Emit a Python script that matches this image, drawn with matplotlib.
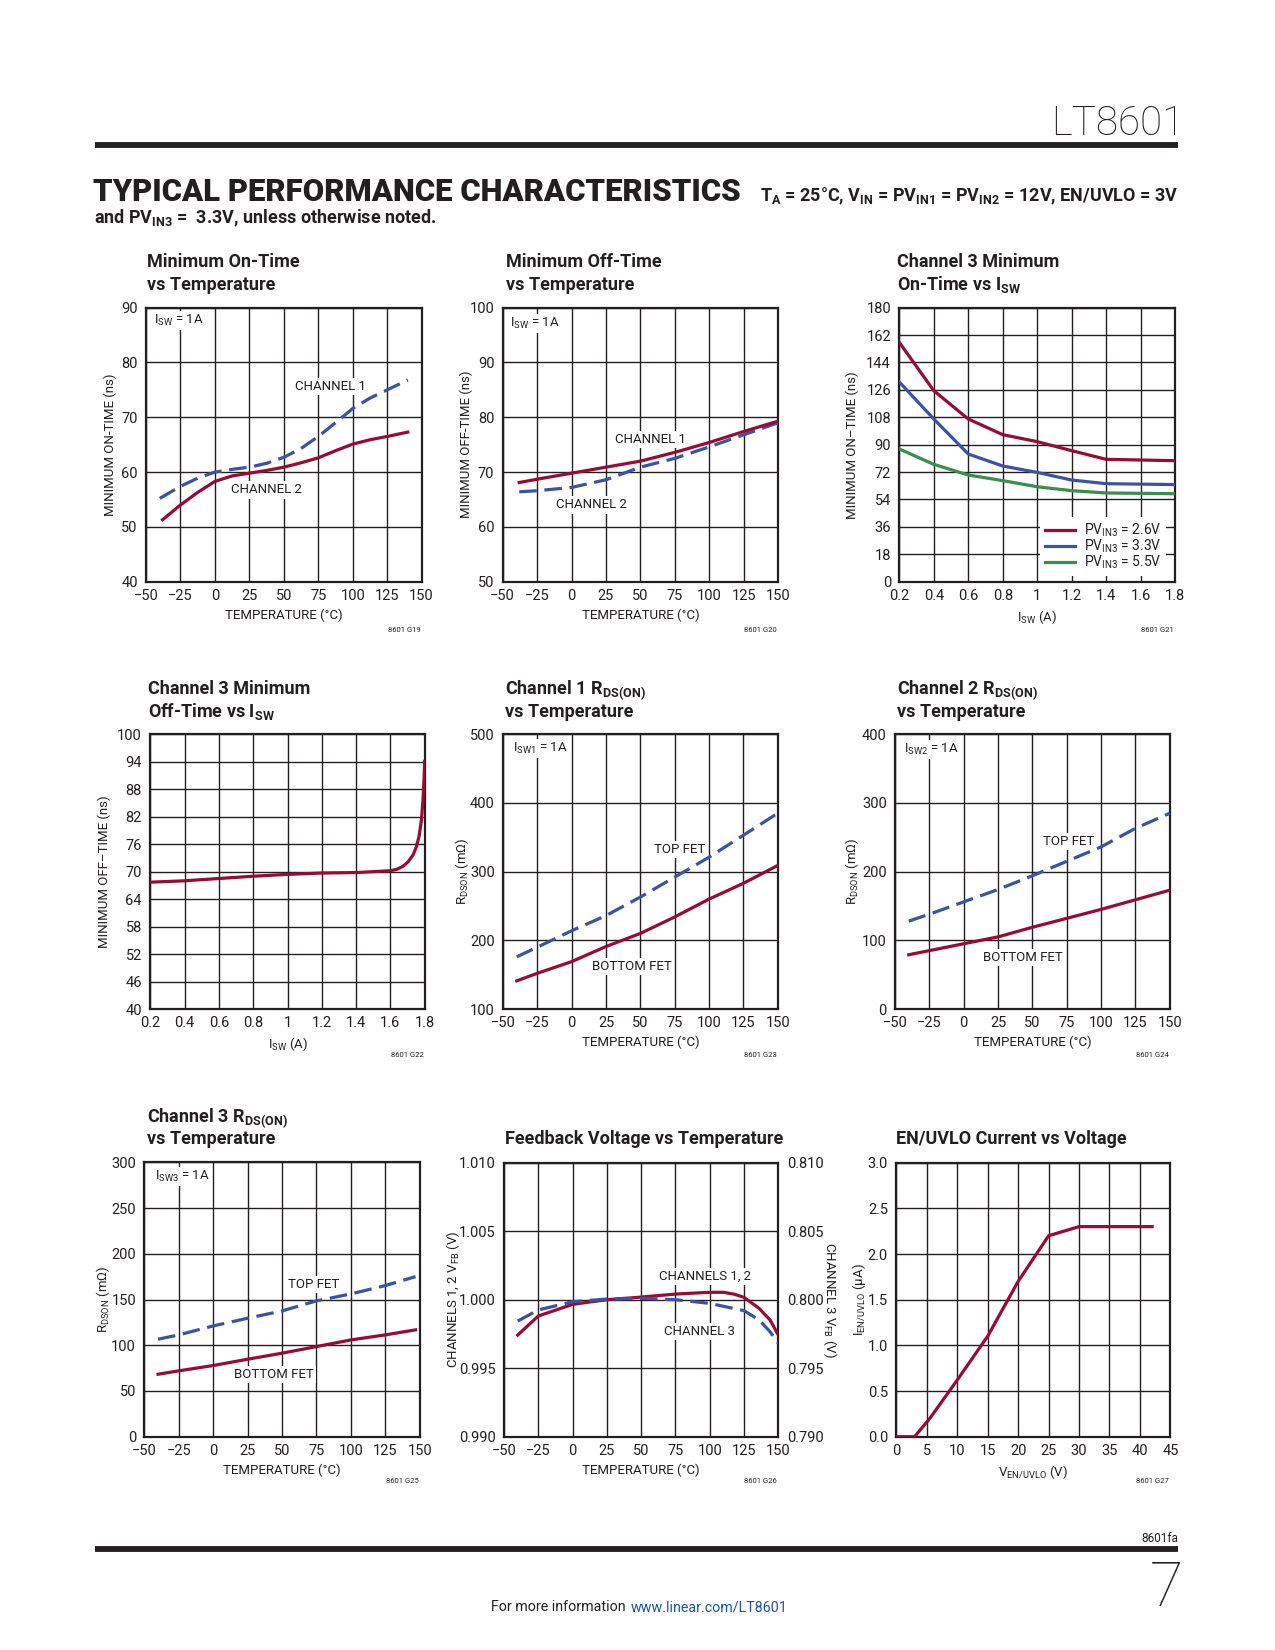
import matplotlib
matplotlib.use('Agg')
import matplotlib.pyplot as plt
from matplotlib import font_manager as fm

W, H = 1275, 1650
names = {f.name for f in fm.fontManager.ttflist}
COND = 'Liberation Sans Narrow' if 'Liberation Sans Narrow' in names else 'Roboto'
plt.rcParams['font.family'] = [COND, 'DejaVu Sans']
plt.rcParams['mathtext.fontset'] = 'custom'
plt.rcParams['mathtext.rm'] = COND
plt.rcParams['mathtext.default'] = 'regular'

TXT = '#231F20'
RED = '#970B35'
BLUE = '#3C52A3'
GREEN = '#3A8D4E'
DASH = (0, (5.5, 2.4))

# ---------------- data ----------------
# 1 Minimum On-Time vs Temperature
t1 = [-40, -25, -12.5, 0, 12.5, 25, 37.5, 50, 62.5, 75, 87.5, 100, 112.5, 125, 140]
on_ch1 = [55.2, 57.4, 58.9, 60.0, 60.5, 60.9, 61.6, 62.7, 64.3, 66.5, 69.0, 71.6, 73.5, 75.0, 76.8]
t1b = [-38, -25, -12.5, 0, 12.5, 25, 37.5, 50, 62.5, 75, 87.5, 100, 112.5, 125, 140]
on_ch2 = [51.3, 54.0, 56.3, 58.3, 59.3, 59.8, 60.3, 60.9, 61.7, 62.6, 63.9, 65.1, 65.9, 66.5, 67.3]

# 2 Minimum Off-Time vs Temperature
t2 = [-38, -25, 0, 25, 50, 75, 100, 125, 150]
off_ch1 = [68.1, 68.7, 69.8, 70.9, 72.0, 73.6, 75.4, 77.4, 79.3]
off_ch2 = [66.4, 66.6, 67.2, 68.6, 70.9, 72.5, 74.6, 76.8, 79.0]

# 3 Channel 3 Minimum On-Time vs ISW
isw3 = [0.2, 0.4, 0.6, 0.8, 1.0, 1.2, 1.4, 1.8]
on3_26 = [157.2, 125.5, 106.9, 96.6, 92.0, 86.1, 80.4, 79.5]
on3_33 = [131.2, 106.9, 83.9, 76.0, 71.8, 66.8, 64.4, 63.8]
on3_55 = [87.2, 77.1, 70.1, 66.4, 62.4, 59.8, 58.3, 57.8]

# 4 Channel 3 Minimum Off-Time vs ISW
isw4 = [0.2, 0.4, 0.6, 0.8, 1.0, 1.2, 1.4, 1.6, 1.637, 1.675, 1.704, 1.733, 1.752,
        1.767, 1.781, 1.79, 1.796, 1.8]
off3 = [67.7, 68.0, 68.5, 69.0, 69.4, 69.7, 69.8, 70.2, 70.5, 71.2, 72.2, 73.7, 75.5,
        77.7, 81.3, 85.7, 90.1, 94.1]

# 5 Channel 1 RDS(ON)
t5 = [-40, -25, 0, 25, 50, 75, 100, 125, 150]
r1_top = [176, 190, 214, 236, 263, 292, 321, 353, 385]
r1_bot = [141, 152, 169, 191, 210, 234, 260, 283, 309]

# 6 Channel 2 RDS(ON)
t6 = [-40, -25, 0, 25, 50, 75, 100, 125, 150]
r2_top = [128, 138, 156, 174, 194, 215, 236, 263, 285]
r2_bot = [79, 85, 95, 105, 119, 132, 145, 159, 173]

# 7 Channel 3 RDS(ON)
t7 = [-40, -25, 0, 25, 50, 75, 100, 125, 147]
r3_top = [106.6, 111.3, 121.1, 129.5, 137.5, 148.5, 156.1, 165.2, 175.0]
r3_bot = [68.3, 72.0, 77.8, 84.7, 91.3, 98.5, 105.8, 111.3, 116.8]

# 8 Feedback voltage vs temperature
t8 = [-40, -25, 0, 25, 50, 75, 100, 110, 118, 125, 136, 144, 150]
vfb12 = [0.99742, 0.99881, 0.99966, 1.00000, 1.00019, 1.00041, 1.00054, 1.00054,
         1.00040, 1.00017, 0.99937, 0.99852, 0.99742]
t8c = [-40, -25, 0, 25, 50, 75, 100, 125, 136, 144, 150]
vfb3 = [0.79844, 0.79925, 0.79985, 0.80005, 0.80010, 0.80000, 0.79973, 0.79920,
        0.79852, 0.79766, 0.79681]

# 9 EN/UVLO current vs voltage
ven = [0, 3, 5.5, 10, 15, 20, 25, 30, 42]
ien = [0, 0, 0.2, 0.62, 1.1, 1.7, 2.2, 2.3, 2.3]

temp_ticks = [-50, -25, 0, 25, 50, 75, 100, 125, 150]
temp_labels = ['\u221250', '\u221225', '0', '25', '50', '75', '100', '125', '150']
isw_ticks = [0.2, 0.4, 0.6, 0.8, 1.0, 1.2, 1.4, 1.6, 1.8]
isw_labels = ['0.2', '0.4', '0.6', '0.8', '1', '1.2', '1.4', '1.6', '1.8']

fig = plt.figure(figsize=(W / 100, H / 100), dpi=100)


def px(x, y):
    return x / W, 1 - y / H


def make_ax(l, t, r, b):
    ax = fig.add_axes([l / W, 1 - b / H, (r - l) / W, (b - t) / H])
    ax._wpx = r - l
    return ax


def style(ax, xticks, xlabels, yticks, ylabels, xlabel, ylabel, yoff):
    ax.set_xlim(xticks[0], xticks[-1])
    ax.set_ylim(yticks[0], yticks[-1])
    ax.set_xticks(xticks)
    ax.set_xticklabels(xlabels)
    ax.set_yticks(yticks)
    ax.set_yticklabels(ylabels)
    ax.grid(True, color=TXT, lw=1.0)
    ax.set_axisbelow(True)
    ax.tick_params(axis='both', length=0, labelsize=10.5, colors=TXT)
    ax.tick_params(axis='x', pad=5)
    ax.tick_params(axis='y', pad=6)
    for s in ax.spines.values():
        s.set_linewidth(1.6)
        s.set_color(TXT)
    ax.set_xlabel(xlabel, fontsize=9.5, color=TXT, labelpad=4)
    ax.set_ylabel(ylabel, fontsize=9.5, color=TXT, va='center')
    ax.yaxis.set_label_coords(-yoff / ax._wpx, 0.5)


def note(ax, x, y, s, ha='center'):
    ax.text(x, y, s, fontsize=9.5, color=TXT, ha=ha, va='center', zorder=3,
            bbox=dict(facecolor='white', edgecolor='none', pad=1.5))


def title(x, ys, lines):
    for y, s in zip(ys, lines):
        fig.text(*px(x, y), s, fontsize=13, fontweight='bold', color=TXT,
                 va='baseline', ha='left')


def code(x, y, s):
    fig.text(*px(x, y), s, fontsize=5.5, color=TXT, ha='right', va='center')


LW = 2.3

# ---- chart 1
ax = make_ax(146, 307.7, 421.6, 581.7)
style(ax, temp_ticks, temp_labels, [40, 50, 60, 70, 80, 90],
      ['40', '50', '60', '70', '80', '90'], 'TEMPERATURE (\u00b0C)',
      'MINIMUM ON-TIME (ns)', 35.3)
ax.plot(t1, on_ch1, color=BLUE, lw=LW, ls=DASH, zorder=4)
ax.plot(t1b, on_ch2, color=RED, lw=LW, zorder=4)
note(ax, 83.6, 75.6, 'CHANNEL 1')
note(ax, 37.6, 56.75, 'CHANNEL 2')
note(ax, -44, 87.7, 'I$_{SW}$ = 1A', ha='left')
title(147, [266.7, 290], ['Minimum On-Time', 'vs Temperature'])
code(421, 630, '8601 G19')

# ---- chart 2
ax = make_ax(502.7, 307.7, 778, 581.7)
style(ax, temp_ticks, temp_labels, [50, 60, 70, 80, 90, 100],
      ['50', '60', '70', '80', '90', '100'], 'TEMPERATURE (\u00b0C)',
      'MINIMUM OFF-TIME (ns)', 36)
ax.plot(t2, off_ch2, color=BLUE, lw=LW, ls=DASH, zorder=4)
ax.plot(t2, off_ch1, color=RED, lw=LW, zorder=4)
note(ax, 57, 76, 'CHANNEL 1')
note(ax, 14.6, 64.0, 'CHANNEL 2')
note(ax, -45, 97.1, 'I$_{SW}$ = 1A', ha='left')
title(506, [266.7, 290], ['Minimum Off-Time', 'vs Temperature'])
code(777, 630, '8601 G20')

# ---- chart 3
ax = make_ax(899.3, 307.7, 1175, 581.7)
yt3 = [0, 18, 36, 54, 72, 90, 108, 126, 144, 162, 180]
style(ax, isw_ticks, isw_labels, yt3, [str(v) for v in yt3],
      'I$_{SW}$ (A)', 'MINIMUM ON\u2013TIME (ns)', 47)
l1, = ax.plot(isw3, on3_26, color=RED, lw=LW, zorder=4, label='PV$_{IN3}$ = 2.6V')
l2, = ax.plot(isw3, on3_33, color=BLUE, lw=LW, zorder=4, label='PV$_{IN3}$ = 3.3V')
l3, = ax.plot(isw3, on3_55, color=GREEN, lw=LW, zorder=4, label='PV$_{IN3}$ = 5.5V')
leg = ax.legend(handles=[l1, l2, l3], loc='lower left', bbox_to_anchor=(0.51, 0.02),
                borderaxespad=0, frameon=True, fancybox=False, framealpha=1,
                edgecolor='none', facecolor='white', fontsize=10, handlelength=2.2,
                handletextpad=0.6, labelspacing=-0.08, borderpad=0.35)
for t in leg.get_texts():
    t.set_color(TXT)
title(896.7, [266.7, 290], ['Channel 3 Minimum', 'On-Time vs I$_{SW}$'])
code(1174, 630, '8601 G21')

# ---- chart 4
ax = make_ax(150.3, 734.3, 424.7, 1009)
yt4 = [40, 46, 52, 58, 64, 70, 76, 82, 88, 94, 100]
style(ax, isw_ticks, isw_labels, yt4, [str(v) for v in yt4],
      'I$_{SW}$ (A)', 'MINIMUM OFF\u2013TIME (ns)', 46.3)
ax.plot(isw4, off3, color=RED, lw=LW, zorder=4)
title(148, [694, 717.3], ['Channel 3 Minimum', 'Off-Time vs I$_{SW}$'])
code(424, 1055, '8601 G22')

# ---- chart 5
ax = make_ax(503, 734.3, 777.7, 1009)
yt5 = [100, 200, 300, 400, 500]
style(ax, temp_ticks, temp_labels, yt5, [str(v) for v in yt5],
      'TEMPERATURE (\u00b0C)', 'R$_{DSON}$ (m\u03a9)', 41.3)
ax.plot(t5, r1_top, color=BLUE, lw=LW, ls=DASH, zorder=4)
ax.plot(t5, r1_bot, color=RED, lw=LW, zorder=4)
note(ax, 78.4, 332.5, 'TOP FET')
note(ax, 43.7, 162, 'BOTTOM FET')
note(ax, -43, 479.6, 'I$_{SW1}$ = 1A', ha='left')
title(504.7, [694, 717.3], ['Channel 1 R$_{DS(ON)}$', 'vs Temperature'])
code(777, 1055, '8601 G23')

# ---- chart 6
ax = make_ax(895, 734.3, 1169.7, 1009)
yt6 = [0, 100, 200, 300, 400]
style(ax, temp_ticks, temp_labels, yt6, [str(v) for v in yt6],
      'TEMPERATURE (\u00b0C)', 'R$_{DSON}$ (m\u03a9)', 42.7)
ax.plot(t6, r2_top, color=BLUE, lw=LW, ls=DASH, zorder=4)
ax.plot(t6, r2_bot, color=RED, lw=LW, zorder=4)
note(ax, 76.2, 243.7, 'TOP FET')
note(ax, 43, 75, 'BOTTOM FET')
note(ax, -43.4, 378, 'I$_{SW2}$ = 1A', ha='left')
title(896.7, [694, 717.3], ['Channel 2 R$_{DS(ON)}$', 'vs Temperature'])
code(1169, 1055, '8601 G24')

# ---- chart 7
ax = make_ax(144.3, 1162.3, 419.7, 1436.7)
yt7 = [0, 50, 100, 150, 200, 250, 300]
style(ax, temp_ticks, temp_labels, yt7, [str(v) for v in yt7],
      'TEMPERATURE (\u00b0C)', 'R$_{DSON}$ (m\u03a9)', 41)
ax.plot(t7, r3_top, color=BLUE, lw=LW, ls=DASH, zorder=4)
ax.plot(t7, r3_bot, color=RED, lw=LW, zorder=4)
note(ax, 73.2, 166, 'TOP FET')
note(ax, 44.4, 67.6, 'BOTTOM FET')
note(ax, -42.3, 284.3, 'I$_{SW3}$ = 1A', ha='left')
title(147, [1121.7, 1144.3], ['Channel 3 R$_{DS(ON)}$', 'vs Temperature'])
code(419, 1481, '8601 G25')

# ---- chart 8
ax = make_ax(504, 1162.7, 778.3, 1436.7)
yt8 = [0.990, 0.995, 1.000, 1.005, 1.010]
style(ax, temp_ticks, temp_labels, yt8, ['%.3f' % v for v in yt8],
      'TEMPERATURE (\u00b0C)', 'CHANNELS 1, 2 V$_{FB}$ (V)', 51.3)
ax.plot(t8, vfb12, color=RED, lw=LW, zorder=4)
note(ax, 96.8, 1.00168, 'CHANNELS 1, 2')
note(ax, 92.2, 0.99766, 'CHANNEL 3')
ax2 = ax.twinx()
yt8r = [0.790, 0.795, 0.800, 0.805, 0.810]
ax2.set_ylim(0.790, 0.810)
ax2.set_yticks(yt8r)
ax2.set_yticklabels(['%.3f' % v for v in yt8r])
ax2.tick_params(axis='y', length=0, labelsize=10.5, colors=TXT, pad=6)
for s in ax2.spines.values():
    s.set_visible(False)
ax2.plot(t8c, vfb3, color=BLUE, lw=LW, ls=DASH, zorder=4)
ax2.set_ylabel('CHANNEL 3 V$_{FB}$ (V)', fontsize=9.5, color=TXT, rotation=-90,
               va='center')
ax2.yaxis.set_label_coords(1 + 51.7 / 274.3, 0.5)
title(505, [1144], ['Feedback Voltage vs Temperature'])
code(777, 1481, '8601 G26')

# ---- chart 9
ax = make_ax(896.3, 1162.7, 1170.4, 1436.7)
yt9 = [0, 0.5, 1.0, 1.5, 2.0, 2.5, 3.0]
xt9 = [0, 5, 10, 15, 20, 25, 30, 35, 40, 45]
style(ax, xt9, [str(v) for v in xt9], yt9, ['%.1f' % v for v in yt9],
      'V$_{EN/UVLO}$ (V)', 'I$_{EN/UVLO}$ (\u03bcA)', 37)
ax.plot(ven, ien, color=RED, lw=LW, zorder=4)
title(896, [1144], ['EN/UVLO Current vs Voltage'])
code(1169, 1481, '8601 G27')

# ---------------- page decoration ----------------
fig.text(*px(1184, 135), 'LT8601', fontsize=29, fontweight='light', color=TXT,
         ha='right', va='baseline')
fig.add_artist(plt.Line2D([94.5 / W, 1178 / W], [1 - 145 / H, 1 - 145 / H], lw=4.2,
                          color=TXT, solid_capstyle='butt'))
fig.text(*px(93, 201), 'TYPICAL PERFORMANCE CHARACTERISTICS', fontsize=22.4,
         fontweight='black', color=TXT, ha='left', va='baseline')
fig.text(*px(1178, 201),
         'T$_{A}$ = 25\u00b0C, V$_{IN}$ = PV$_{IN1}$ = PV$_{IN2}$ = 12V, EN/UVLO = 3V',
         fontsize=13, fontweight='bold', color=TXT, ha='right', va='baseline')
fig.text(*px(94, 223), 'and PV$_{IN3}$ =  3.3V, unless otherwise noted.',
         fontsize=13, fontweight='bold', color=TXT, ha='left', va='baseline')

fig.add_artist(plt.Line2D([94.5 / W, 1178 / W], [1 - 1549 / H, 1 - 1549 / H], lw=4.2,
                          color=TXT, solid_capstyle='butt'))
fig.text(*px(1178, 1542), '8601fa', fontsize=8.5, color=TXT, ha='right', va='baseline')
fig.text(*px(1183, 1606), '7', fontsize=44, fontweight='light', color=TXT,
         ha='right', va='baseline')
fig.text(*px(629, 1611), 'For more information ', fontsize=10.3, color=TXT,
         ha='right', va='baseline')
fig.text(*px(631, 1611), 'www.linear.com/LT8601', fontsize=10.3, color='#1F4FB5',
         ha='left', va='baseline')

fig.savefig('out.png', dpi=100)
